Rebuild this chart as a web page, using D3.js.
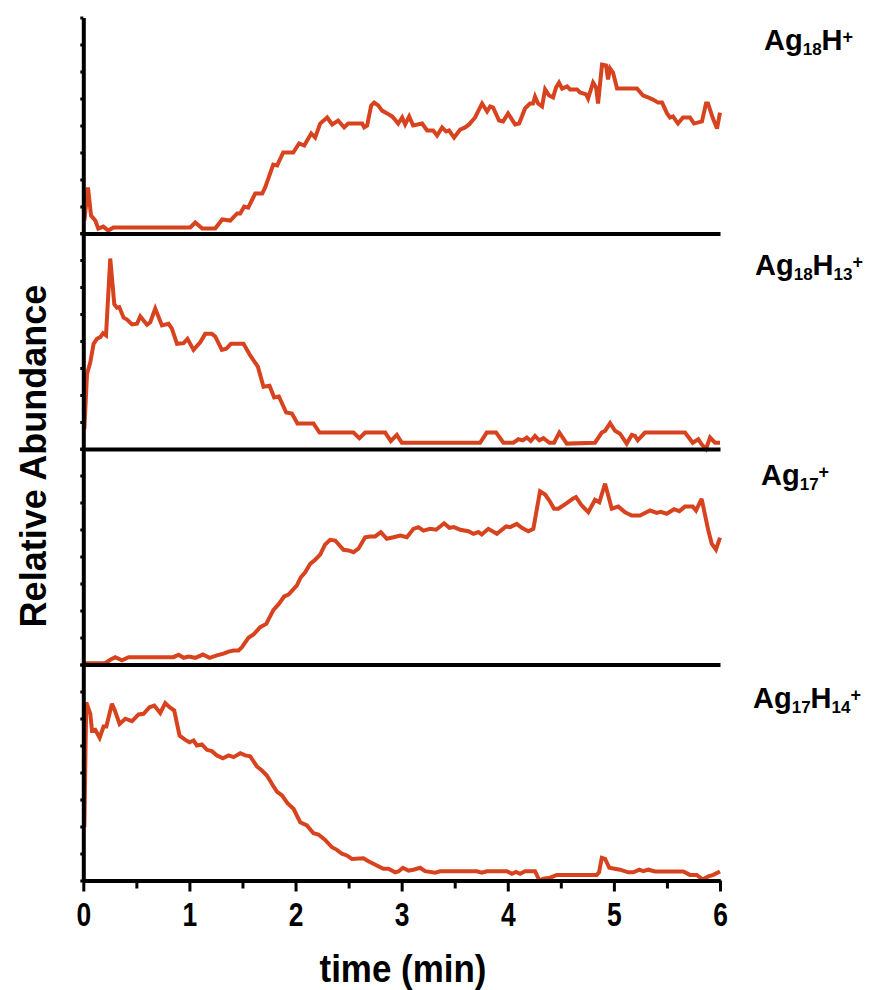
<!DOCTYPE html>
<html><head><meta charset="utf-8">
<script src="https://cdn.jsdelivr.net/npm/d3@7"></script>
<style>body{margin:0;background:#fff} svg{display:block}</style>
</head><body><svg id="c" width="881" height="990"></svg>
<script>
// ---------- data ----------
const majorTicks = [0, 1, 2, 3, 4, 5, 6];
const minorTicks = [0.5, 1.5, 2.5, 3.5, 4.5, 5.5];
const xLabel = "time (min)";
const yLabel = "Relative Abundance";

// [time (min), relative abundance (% of panel)]
const ag18H = [[0.01,6.0],[0.044,21.3],[0.073,8.3],[0.113,6.0],[0.141,2.3],[0.188,3.2],[0.235,1.4],[0.283,2.8],[1.008,2.8],[1.055,5.1],[1.121,2.3],[1.243,2.3],[1.309,6.5],[1.385,6.0],[1.45,9.3],[1.479,9.3],[1.516,12.5],[1.554,12.0],[1.62,18.5],[1.686,18.5],[1.714,21.3],[1.79,31.9],[1.827,31.5],[1.884,37.5],[1.978,37.5],[2.034,41.7],[2.082,40.7],[2.148,46.3],[2.185,44.4],[2.232,50.9],[2.298,53.7],[2.345,50.5],[2.402,52.3],[2.458,49.1],[2.496,50.9],[2.628,50.9],[2.647,49.1],[2.675,50.0],[2.713,59.3],[2.741,60.6],[2.779,59.3],[2.816,56.9],[2.863,55.6],[2.91,54.2],[2.929,53.2],[2.967,50.9],[3.005,53.7],[3.033,50.5],[3.071,54.2],[3.108,50.0],[3.193,50.9],[3.24,47.7],[3.297,47.7],[3.334,45.4],[3.381,49.1],[3.419,47.2],[3.447,47.7],[3.494,44.4],[3.551,48.1],[3.598,49.1],[3.636,50.5],[3.692,53.7],[3.758,60.2],[3.805,56.5],[3.834,58.8],[3.862,58.3],[3.918,52.3],[3.956,51.9],[4.003,55.6],[4.069,50.5],[4.107,50.9],[4.163,57.9],[4.21,60.2],[4.238,60.2],[4.257,63.4],[4.286,60.2],[4.323,58.8],[4.352,66.7],[4.389,63.9],[4.427,63.0],[4.455,67.6],[4.483,69.9],[4.512,67.1],[4.559,68.1],[4.587,66.7],[4.653,66.7],[4.681,65.3],[4.738,64.4],[4.757,62.5],[4.804,69.9],[4.832,67.6],[4.851,60.2],[4.888,78.2],[4.926,77.8],[4.945,71.3],[4.964,76.4],[4.992,74.5],[5.03,67.1],[5.218,67.1],[5.275,63.9],[5.303,63.4],[5.322,63.0],[5.369,62.0],[5.416,60.6],[5.454,60.6],[5.501,55.6],[5.529,53.7],[5.557,54.2],[5.604,50.9],[5.651,53.7],[5.717,53.7],[5.755,50.9],[5.83,51.9],[5.868,60.2],[5.887,60.2],[5.934,53.2],[5.972,48.6],[6.0,56.0]];

const ag18H13 = [[0.01,9.2],[0.035,34.7],[0.066,40.1],[0.097,48.7],[0.129,51.0],[0.16,51.8],[0.186,53.6],[0.214,52.6],[0.254,88.2],[0.292,67.0],[0.317,65.4],[0.339,65.7],[0.38,60.8],[0.412,59.9],[0.459,57.7],[0.506,58.0],[0.537,61.4],[0.6,57.5],[0.631,58.7],[0.678,65.0],[0.741,57.2],[0.803,58.0],[0.835,55.7],[0.883,48.7],[0.945,49.0],[0.982,51.0],[1.039,45.9],[1.102,49.4],[1.149,53.3],[1.212,53.3],[1.243,52.1],[1.306,45.9],[1.347,46.4],[1.391,48.7],[1.51,48.7],[1.573,43.3],[1.645,38.1],[1.698,28.8],[1.755,29.3],[1.799,23.9],[1.843,24.3],[1.912,16.9],[1.966,16.4],[2.018,11.8],[2.169,11.8],[2.226,7.6],[2.546,7.6],[2.602,5.0],[2.656,7.6],[2.845,7.6],[2.898,3.7],[2.955,6.5],[3.002,2.9],[3.739,2.9],[3.802,7.6],[3.89,7.6],[3.959,2.9],[4.053,2.9],[4.1,4.5],[4.141,4.0],[4.179,5.3],[4.217,3.7],[4.257,6.0],[4.298,4.0],[4.336,5.0],[4.392,2.9],[4.436,2.9],[4.486,7.6],[4.556,2.5],[4.822,2.9],[4.886,7.6],[4.917,8.4],[4.964,12.0],[5.011,8.4],[5.058,7.1],[5.121,2.5],[5.168,6.5],[5.199,6.0],[5.225,4.0],[5.293,7.6],[5.67,7.6],[5.743,2.9],[5.796,4.5],[5.827,2.2],[5.868,0.0],[5.906,5.3],[5.953,2.9],[6.0,2.9]];

const ag17 = [[0.01,0.6],[0.207,0.6],[0.254,2.2],[0.301,3.4],[0.365,1.9],[0.427,3.4],[0.851,3.4],[0.898,4.5],[0.945,3.1],[0.992,3.7],[1.055,3.1],[1.127,4.6],[1.19,3.1],[1.259,4.2],[1.321,5.0],[1.369,6.0],[1.416,6.5],[1.463,6.5],[1.495,8.0],[1.557,12.4],[1.604,13.9],[1.667,17.3],[1.724,18.8],[1.792,25.3],[1.839,27.8],[1.893,31.5],[1.934,32.4],[2.013,36.6],[2.05,40.4],[2.091,42.7],[2.138,46.6],[2.185,48.5],[2.232,50.9],[2.279,55.6],[2.326,57.7],[2.374,57.4],[2.452,53.1],[2.499,52.8],[2.546,52.0],[2.593,53.6],[2.656,58.9],[2.703,59.3],[2.75,59.3],[2.804,61.3],[2.86,58.2],[2.923,58.9],[2.986,59.7],[3.049,58.9],[3.111,62.8],[3.158,63.6],[3.205,62.0],[3.268,62.8],[3.325,62.4],[3.4,65.4],[3.45,63.3],[3.494,63.6],[3.551,62.4],[3.629,61.7],[3.676,60.5],[3.723,61.3],[3.755,60.2],[3.817,62.8],[3.897,60.5],[3.984,63.9],[4.022,63.6],[4.085,65.1],[4.132,63.3],[4.194,61.7],[4.241,62.8],[4.304,80.2],[4.352,78.7],[4.392,75.9],[4.436,72.1],[4.477,72.1],[4.556,74.7],[4.612,76.7],[4.643,77.5],[4.697,73.6],[4.759,70.5],[4.822,76.3],[4.863,75.1],[4.917,83.7],[4.98,72.1],[5.042,73.1],[5.105,70.5],[5.168,69.0],[5.246,69.0],[5.341,71.3],[5.404,70.2],[5.441,70.7],[5.498,69.8],[5.567,71.9],[5.617,71.0],[5.67,73.1],[5.743,73.1],[5.774,71.3],[5.827,76.7],[5.89,62.0],[5.922,55.9],[5.962,53.2],[6.0,58.7]];

const ag17H14 = [[0.01,24.7],[0.028,82.5],[0.066,77.2],[0.082,69.4],[0.113,69.8],[0.154,66.1],[0.191,71.3],[0.217,71.3],[0.27,81.8],[0.295,79.0],[0.342,72.5],[0.396,74.9],[0.459,73.8],[0.521,76.9],[0.568,77.2],[0.624,80.2],[0.669,81.0],[0.725,77.5],[0.772,82.1],[0.813,80.2],[0.857,78.7],[0.907,67.1],[0.961,65.1],[1.001,64.0],[1.039,64.8],[1.071,62.5],[1.118,63.0],[1.165,60.5],[1.212,59.9],[1.259,57.9],[1.316,56.6],[1.369,57.9],[1.416,57.1],[1.479,58.9],[1.526,57.9],[1.573,57.5],[1.636,52.8],[1.683,50.9],[1.73,48.6],[1.777,44.8],[1.824,41.2],[1.872,39.4],[1.924,35.8],[1.981,33.2],[2.044,27.0],[2.107,25.5],[2.169,21.9],[2.216,21.3],[2.279,18.8],[2.343,15.4],[2.39,14.2],[2.437,12.4],[2.484,11.6],[2.531,10.0],[2.64,10.3],[2.687,8.9],[2.766,6.9],[2.828,5.4],[2.876,5.4],[2.939,3.8],[2.97,4.2],[3.011,5.9],[3.064,4.6],[3.111,5.0],[3.174,5.9],[3.221,4.3],[3.316,3.6],[3.363,4.3],[3.708,4.3],[3.755,3.6],[3.802,4.3],[3.991,4.3],[4.038,3.1],[4.078,4.0],[4.116,3.1],[4.163,4.3],[4.257,4.3],[4.298,0.0],[4.336,0.8],[4.399,1.3],[4.462,2.6],[4.838,2.6],[4.86,3.8],[4.886,10.5],[4.917,10.0],[4.957,5.9],[5.058,5.0],[5.136,3.8],[5.183,3.8],[5.24,5.0],[5.277,4.3],[5.325,5.0],[5.388,4.2],[5.654,4.2],[5.717,2.6],[5.78,2.6],[5.837,0.5],[5.89,1.9],[5.937,2.6],[6.0,4.2]];

const seriesData = [ag18H, ag18H13, ag17, ag17H14];
// label parts: [text, kind] kind: n = normal, b = subscript, p = superscript
const labelParts = [
  [["Ag","n"],["18","b"],["H","n"],["+","p"]],
  [["Ag","n"],["18","b"],["H","n"],["13","b"],["+","p"]],
  [["Ag","n"],["17","b"],["+","p"]],
  [["Ag","n"],["17","b"],["H","n"],["14","b"],["+","p"]]
];

// ---------- layout ----------
const FONT = "'Liberation Sans', Arial, Helvetica, sans-serif";
const lineColor = "#d8431f";
const panelBottoms = [233.5, 449, 664.5, 880.5];
const panelH = 216;
const labelPos = [[764, 50], [755, 275], [761, 485], [753, 708]];

const svg = d3.select("#c");
const x = d3.scaleLinear().domain([0, 6]).range([83.3, 720]);

const yScales = panelBottoms.map(b => d3.scaleLinear().domain([0, 100]).range([b, b - panelH]));

// series lines
seriesData.forEach((data, i) => {
  const y = yScales[i];
  const line = d3.line().x(d => x(d[0])).y(d => y(d[1]));
  svg.append("path").datum(data)
    .attr("d", line)
    .attr("fill", "none")
    .attr("stroke", lineColor)
    .attr("stroke-width", 4)
    .attr("stroke-linejoin", "miter")
    .attr("stroke-miterlimit", 3);
});

// y axes (one per panel, stacked into one long axis)
yScales.forEach((y, i) => {
  const g = svg.append("g").attr("transform", "translate(83.3,0)")
    .call(d3.axisLeft(y).tickValues(d3.range(0, 100.1, 12.5)).tickSize(3).tickSizeOuter(0).tickFormat(""));
  g.select(".domain").attr("stroke", "#000").attr("stroke-width", 4);
  g.selectAll(".tick line").attr("stroke", "#000").attr("stroke-width", 3);
});

// panel separators (internal x axes without labels)
panelBottoms.slice(0, 3).forEach(b => {
  const g = svg.append("g").attr("transform", `translate(0,${b})`)
    .call(d3.axisBottom(x).tickValues(majorTicks.concat(minorTicks)).tickSize(0).tickSizeOuter(0).tickFormat(""));
  g.select(".domain").attr("stroke", "#000").attr("stroke-width", 4.2);
});

// bottom axis
const bottomY = panelBottoms[3];
const gMinor = svg.append("g").attr("transform", `translate(0,${bottomY})`)
  .call(d3.axisBottom(x).tickValues(minorTicks).tickSize(8).tickSizeOuter(0).tickFormat(""));
gMinor.select(".domain").attr("stroke", "#000").attr("stroke-width", 4.2);
gMinor.selectAll(".tick line").attr("stroke", "#000").attr("stroke-width", 3);

const gMajor = svg.append("g").attr("transform", `translate(0,${bottomY})`)
  .call(d3.axisBottom(x).tickValues(majorTicks).tickSize(11).tickSizeOuter(0).tickFormat(d3.format("d")));
gMajor.select(".domain").attr("stroke", "#000").attr("stroke-width", 4.2);
gMajor.selectAll(".tick line").attr("stroke", "#000").attr("stroke-width", 3);
gMajor.selectAll(".tick text")
  .attr("y", null).attr("dy", null)
  .attr("transform", "translate(0,45) scale(0.8,1)")
  .attr("fill", "#000")
  .style("font-family", FONT).style("font-weight", "bold").style("font-size", "33px");

// axis titles
svg.append("text")
  .attr("transform", "translate(403,982) scale(0.92,1)")
  .attr("text-anchor", "middle")
  .style("font-family", FONT).style("font-weight", "bold").style("font-size", "38px")
  .text(xLabel);

svg.append("text")
  .attr("transform", "translate(46,456) rotate(-90)")
  .attr("text-anchor", "middle")
  .style("font-family", FONT).style("font-weight", "bold").style("font-size", "36px")
  .text(yLabel);

// series labels
const offsets = {n: 0, b: 5, p: -7};
const sizes = {n: 29, b: 17, p: 18};
labelParts.forEach((parts, i) => {
  const t = svg.append("text")
    .attr("x", labelPos[i][0]).attr("y", labelPos[i][1])
    .style("font-family", FONT).style("font-weight", "bold");
  let prev = 0;
  parts.forEach(([s, k]) => {
    t.append("tspan")
      .attr("dy", offsets[k] - prev)
      .style("font-size", sizes[k] + "px")
      .text(s);
    prev = offsets[k];
  });
});
</script>
</body></html>
